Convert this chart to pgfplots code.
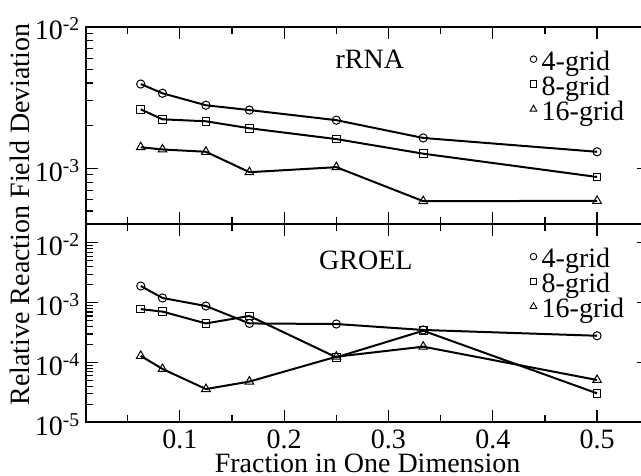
\documentclass[border=0pt]{standalone}
\usepackage{fontspec}
\setmainfont{Liberation Serif}
\usepackage{pgfplots}
\usepackage{pgfplotstable}
\pgfplotsset{compat=1.18}

\pgfplotstableread{
x a b c
0.0625  3.94e-3 2.61e-3 1.41e-3
0.08333 3.39e-3 2.22e-3 1.36e-3
0.125   2.79e-3 2.15e-3 1.31e-3
0.16667 2.58e-3 1.92e-3 9.4e-4
0.25    2.19e-3 1.61e-3 1.02e-3
0.33333 1.64e-3 1.27e-3 5.87e-4
0.5     1.31e-3 8.7e-4  5.9e-4
}\rrna

\pgfplotstableread{
x a b c
0.0625  1.9e-3  7.8e-4  1.29e-4
0.08333 1.2e-3  7.1e-4  7.8e-5
0.125   8.8e-4  4.5e-4  3.6e-5
0.16667 4.5e-4  6.0e-4  4.8e-5
0.25    4.4e-4  1.22e-4 1.25e-4
0.33333 3.5e-4  3.4e-4  1.84e-4
0.5     2.8e-4  3.05e-5 5.1e-5
}\groel

\pgfplotsset{
  legend image code/.code={\path (-3.3pt,0pt) (8pt,0pt); \draw[#1] plot coordinates {(0pt,4.5pt)};},
  mcirc/.style={mark=o, mark size=4.1pt},
  msq/.style={mark=square, mark size=3.8pt},
  mtri/.style={mark=triangle, mark size=5pt},
}

\begin{document}
\fontsize{28}{32}\selectfont
\begin{tikzpicture}[font=\fontsize{28}{32}\selectfont]
\path[use as bounding box] (-86pt,-52.7pt) rectangle (555pt,422.3pt);

% top panel: rRNA
\begin{axis}[
  scale only axis,
  width=563.2pt,
  xmin=0.01, xmax=0.55,
  ymode=log,
  axis line style={line width=2pt},
  tick style={line width=1.2pt, black},
  major tick length=12pt,
  minor tick length=7pt,
  tick align=inside,
  xtick={0.1,0.2,0.3,0.4,0.5},
  minor xtick={0.05,0.15,0.25,0.35,0.45},
  tick label style={font=\fontsize{28}{32}\selectfont},
  yticklabel style={anchor=east, inner xsep=0pt, xshift=-6pt, yshift=-2pt},
  legend cell align=left,
  legend style={draw=none, fill=none, inner sep=0pt,
    font=\fontsize{28}{32}\selectfont,
    nodes={inner sep=0pt, text height=19pt, text depth=6pt}},
  at={(0pt,198.3pt)},
  height=197.3pt,
  ymin=4.05e-4, ymax=1e-2,
  xticklabels={},
  ytick={1e-3,1e-2},
  yticklabels={10\textsuperscript{-3},10\textsuperscript{-2}},
  minor ytick={5e-4,6e-4,7e-4,8e-4,9e-4,2e-3,3e-3,4e-3,5e-3,6e-3,7e-3,8e-3,9e-3},
  legend style={at={(rel axis cs:0.788,0.877)}, anchor=north west},
]
\addlegendimage{only marks, mark=o, mark size=3.3pt, mark options={line width=0.9pt}}
\addlegendentry{4-grid}
\addlegendimage{only marks, mark=square, mark size=3.3pt, mark options={line width=0.9pt}}
\addlegendentry{8-grid}
\addlegendimage{only marks, mark=triangle, mark size=3.9pt, mark options={line width=0.9pt}}
\addlegendentry{16-grid}
\addplot[black, line width=2pt, mark options={line width=1pt, solid}, mcirc, forget plot] table[x=x, y=a] {\rrna};
\addplot[black, line width=2pt, mark options={line width=1pt, solid}, msq, forget plot] table[x=x, y=b] {\rrna};
\addplot[black, line width=2pt, mark options={line width=1pt, solid}, mtri, forget plot] table[x=x, y=c] {\rrna};
\node at (rel axis cs:0.504,0.836) {rRNA};
\end{axis}

% bottom panel: GROEL
\begin{axis}[
  scale only axis,
  width=563.2pt,
  xmin=0.01, xmax=0.55,
  ymode=log,
  axis line style={line width=2pt},
  tick style={line width=1.2pt, black},
  major tick length=12pt,
  minor tick length=7pt,
  tick align=inside,
  xtick={0.1,0.2,0.3,0.4,0.5},
  minor xtick={0.05,0.15,0.25,0.35,0.45},
  tick label style={font=\fontsize{28}{32}\selectfont},
  yticklabel style={anchor=east, inner xsep=0pt, xshift=-6pt, yshift=-2pt},
  xticklabel style={anchor=base, inner sep=0pt, yshift=-26pt},
  legend cell align=left,
  legend style={draw=none, fill=none, inner sep=0pt,
    font=\fontsize{28}{32}\selectfont,
    nodes={inner sep=0pt, text height=19pt, text depth=6pt}},
  at={(0pt,0pt)},
  height=198.3pt,
  ymin=1e-5, ymax=2.07e-2,
  xticklabels={0.1,0.2,0.3,0.4,0.5},
  ytick={1e-5,1e-4,1e-3,1e-2},
  yticklabels={10\textsuperscript{-5},10\textsuperscript{-4},10\textsuperscript{-3},10\textsuperscript{-2}},
  minor ytick={2e-5,3e-5,4e-5,5e-5,6e-5,7e-5,8e-5,9e-5,2e-4,3e-4,4e-4,5e-4,6e-4,7e-4,8e-4,9e-4,2e-3,3e-3,4e-3,5e-3,6e-3,7e-3,8e-3,9e-3,2e-2},
  xlabel={Fraction in One Dimension},
  xlabel style={at={(rel axis cs:0.5,0)}, anchor=base, inner sep=0pt, yshift=-50.5pt},
  ylabel={Relative Reaction Field Deviation},
  ylabel style={at={(rel axis cs:0,1.048)}, anchor=base, inner sep=0pt, yshift=56pt},
  label style={font=\fontsize{28}{32}\selectfont},
  legend style={at={(rel axis cs:0.788,0.877)}, anchor=north west},
]
\addlegendimage{only marks, mark=o, mark size=3.3pt, mark options={line width=0.9pt}}
\addlegendentry{4-grid}
\addlegendimage{only marks, mark=square, mark size=3.3pt, mark options={line width=0.9pt}}
\addlegendentry{8-grid}
\addlegendimage{only marks, mark=triangle, mark size=3.9pt, mark options={line width=0.9pt}}
\addlegendentry{16-grid}
\addplot[black, line width=2pt, mark options={line width=1pt, solid}, mcirc, forget plot] table[x=x, y=a] {\groel};
\addplot[black, line width=2pt, mark options={line width=1pt, solid}, msq, forget plot] table[x=x, y=b] {\groel};
\addplot[black, line width=2pt, mark options={line width=1pt, solid}, mtri, forget plot] table[x=x, y=c] {\groel};
\node at (rel axis cs:0.497,0.818) {GROEL};
\end{axis}
\end{tikzpicture}
\end{document}
